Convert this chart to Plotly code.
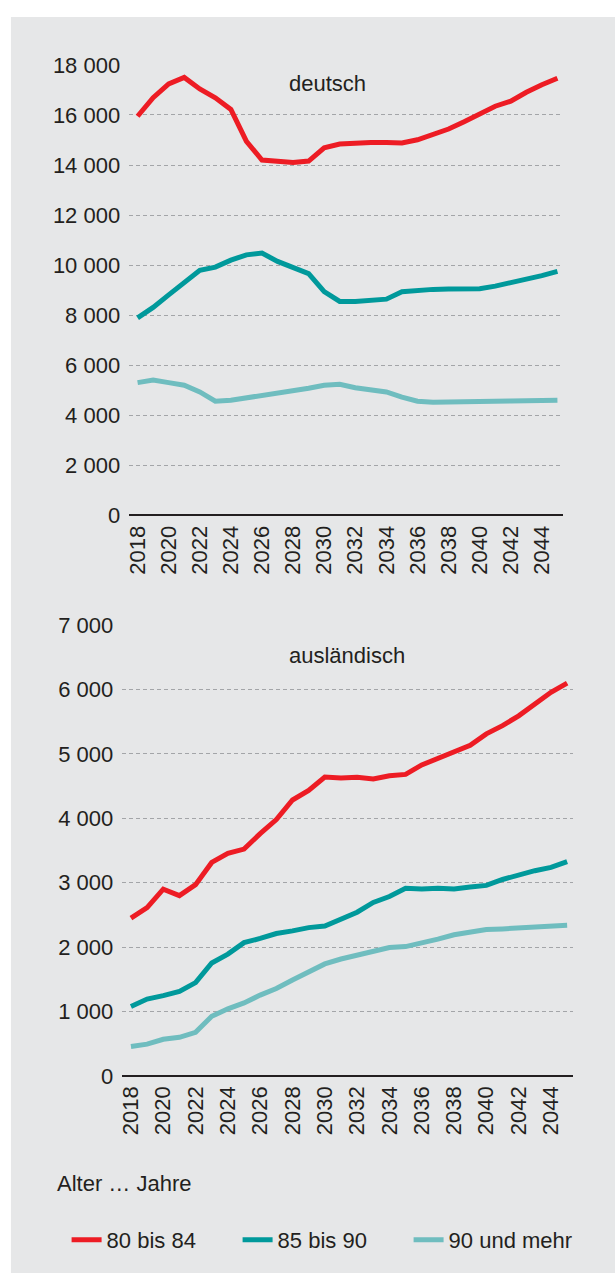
import plotly.graph_objects as go

W, H = 615, 1286

years = [2018, 2019, 2020, 2021, 2022, 2023, 2024, 2025, 2026, 2027, 2028, 2029, 2030, 2031,
         2032, 2033, 2034, 2035, 2036, 2037, 2038, 2039, 2040, 2041, 2042, 2043, 2044, 2045]

# deutsch
de_80_84 = [15950, 16690, 17240, 17500, 17040, 16690, 16220, 14950, 14200, 14140, 14100, 14160, 14690, 14840,
            14880, 14900, 14900, 14880, 15010, 15240, 15440, 15730, 16060, 16350, 16550, 16910, 17210, 17470]
de_85_90 = [7890, 8310, 8810, 9290, 9790, 9920, 10200, 10410, 10480, 10150, 9920, 9660, 8940, 8550,
            8550, 8570, 8640, 8940, 9000, 9030, 9050, 9060, 9060, 9160, 9290, 9420, 9580, 9750]
de_90_mehr = [5305, 5410, 5305, 5200, 4930, 4560, 4600, 4690, 4780, 4850, 4950, 5080, 5200, 5240,
              5100, 5000, 4930, 4720, 4560, 4520, 4540, 4550, 4570, 4570, 4570, 4580, 4590, 4600]

# ausländisch
aus_80_84 = [2450, 2613, 2900, 2800, 2970, 3315, 3457, 3523, 3762, 3980, 4285, 4433, 4641, 4626,
             4636, 4611, 4662, 4682, 4829, 4931, 5018, 5135, 5312, 5440, 5592, 5780, 5958, 6100]
aus_85_90 = [1078, 1194, 1246, 1311, 1449, 1754, 1891, 2069, 2135, 2211, 2252, 2303, 2328, 2425,
             2542, 2694, 2786, 2913, 2903, 2913, 2903, 2933, 2959, 3050, 3126, 3187, 3238, 3329]
aus_90_mehr = [457, 493, 569, 600, 676, 925, 1042, 1133, 1255, 1357, 1490, 1612, 1739, 1815,
               1881, 1932, 1993, 2008, 2059, 2125, 2191, 2237, 2272, 2283, 2298, 2313, 2323, 2338]

series_names = ["80 bis 84", "85 bis 90", "90 und mehr"]
colors = ["#ED1C24", "#00999B", "#6FBDBF"]

x_ticks = [2018, 2020, 2022, 2024, 2026, 2028, 2030, 2032, 2034, 2036, 2038, 2040, 2042, 2044]
top_yticks = [0, 2000, 4000, 6000, 8000, 10000, 12000, 14000, 16000, 18000]
top_ytext = ["0", "2 000", "4 000", "6 000", "8 000", "10 000", "12 000", "14 000", "16 000", "18 000"]
bot_yticks = [0, 1000, 2000, 3000, 4000, 5000, 6000, 7000]
bot_ytext = ["0", "1 000", "2 000", "3 000", "4 000", "5 000", "6 000", "7 000"]

TXT = "#231F20"
BG = "#E6E7E8"
FONT = "Liberation Sans, Arial, sans-serif"


def px(x):
    return x / W


def py(y):
    return 1 - y / H


fig = go.Figure()

for name, vals, col in zip(series_names, [de_80_84, de_85_90, de_90_mehr], colors):
    fig.add_trace(go.Scatter(x=years, y=vals, mode="lines", name=name,
                             line=dict(color=col, width=5), xaxis="x", yaxis="y",
                             showlegend=True))
for name, vals, col in zip(series_names, [aus_80_84, aus_85_90, aus_90_mehr], colors):
    fig.add_trace(go.Scatter(x=years, y=vals, mode="lines", name=name,
                             line=dict(color=col, width=5), xaxis="x2", yaxis="y2",
                             showlegend=False))

xcommon = dict(range=[2017.46, 2045.38], tickvals=x_ticks, tickangle=-90,
               showgrid=False, zeroline=False, showline=False,
               ticks="", ticklabelstandoff=5,
               tickfont=dict(family=FONT, size=22, color=TXT))
ycommon = dict(showgrid=True, gridcolor="#A3A5A8", griddash="4px,3px", gridwidth=1,
               zeroline=True, zerolinecolor=TXT, zerolinewidth=2, showline=False,
               ticks="", ticklabelstandoff=8,
               tickfont=dict(family=FONT, size=22, color=TXT))

fig.update_layout(
    width=W, height=H,
    margin=dict(l=0, r=0, t=0, b=0),
    paper_bgcolor="white",
    plot_bgcolor="rgba(0,0,0,0)",
    font=dict(family=FONT, color=TXT),
    hovermode=False,
    xaxis=dict(domain=[px(126), px(563)], anchor="y", **xcommon),
    yaxis=dict(domain=[py(513.3), py(54)], range=[0, 18000], tickvals=top_yticks,
               ticktext=top_ytext, anchor="x", **ycommon),
    xaxis2=dict(domain=[px(119), px(573)], anchor="y2", **xcommon),
    yaxis2=dict(domain=[py(1085), py(625.3)], range=[0, 7000], tickvals=bot_yticks,
                ticktext=bot_ytext, anchor="x2", **ycommon),
    shapes=[dict(type="rect", xref="paper", yref="paper", x0=px(7), x1=1, y0=0, y1=py(5),
                 fillcolor=BG, line=dict(width=0), layer="below")],
    annotations=[
        dict(text="deutsch", xref="paper", yref="paper", x=px(285), y=py(73), xanchor="left",
             yanchor="middle", showarrow=False, font=dict(family=FONT, size=22, color=TXT)),
        dict(text="ausländisch", xref="paper", yref="paper", x=px(285), y=py(656.5), xanchor="left",
             yanchor="middle", showarrow=False, font=dict(family=FONT, size=22, color=TXT)),
        dict(text="Alter … Jahre", xref="paper", yref="paper", x=px(51), y=py(1194.5), xanchor="left",
             yanchor="middle", showarrow=False, font=dict(family=FONT, size=22, color=TXT)),
    ],
    legend=dict(orientation="h", x=px(63), y=py(1231), xanchor="left", yanchor="top",
                bgcolor="rgba(0,0,0,0)", font=dict(family=FONT, size=22, color=TXT),
                entrywidth=126, entrywidthmode="pixels"),
)

fig.write_html(
    "out.html",
    config={"displayModeBar": False},
    post_script="document.body.style.margin='0';document.body.style.overflow='hidden';",
)
